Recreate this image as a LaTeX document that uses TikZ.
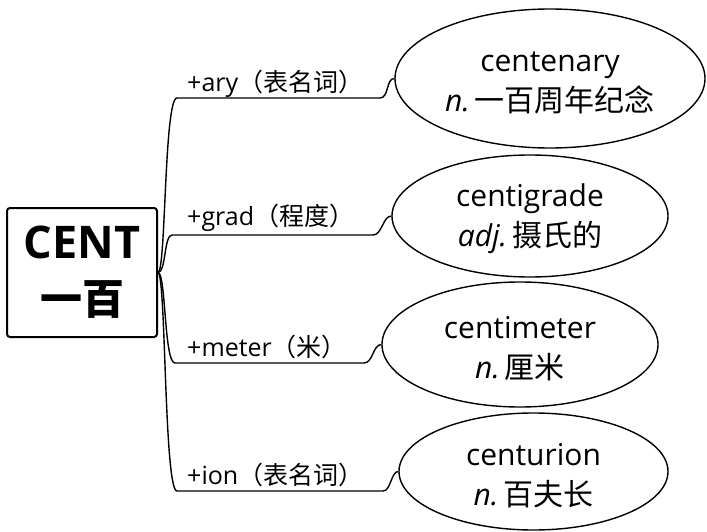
\documentclass[tikz,border=0pt]{standalone}
\usepackage{fontspec}
\setmainfont{Open Sans}
\newfontfamily\cjk{Noto Sans CJK SC}
\usetikzlibrary{shapes.geometric}
\begin{document}
\begin{tikzpicture}[x=1pt,y=-1pt,
  conn/.style={line width=1.4pt, black},
  wordell/.style={ellipse, draw, line width=1.4pt, inner sep=0pt},
  wordtxt/.style={align=center, inner sep=0pt, font=\fontsize{30}{40}\selectfont},
  branchlbl/.style={anchor=west, inner sep=0pt, font=\fontsize{25}{30}\selectfont},
  rootbox/.style={draw, line width=2pt, rounded corners=3pt, minimum width=150pt, minimum height=129pt, align=center, font=\fontsize{45}{56}\selectfont\bfseries}]
\useasboundingbox (0,0) rectangle (707,532);
\node[rootbox] (root) at (82,272.5) {CENT\\{\cjk\bfseries\fontsize{42}{56}\selectfont 一百}};

\node[wordell, minimum width=310pt, minimum height=139pt] (e1) at (550,78.5) {};
\node[wordell, minimum width=276pt, minimum height=122pt] (e2) at (530,216) {};
\node[wordell, minimum width=276pt, minimum height=125pt] (e3) at (520,344.5) {};
\node[wordell, minimum width=269pt, minimum height=117pt] (e4) at (533.5,471.5) {};

\node[wordtxt] (t1) at ([yshift=-4pt]e1.center) {centenary\\\textit{n.}\,{\cjk 一百周年纪念}};
\node[wordtxt] (t2) at ([yshift=-3pt]e2.center) {centigrade\\\textit{adj.}\,{\cjk 摄氏的}};
\node[wordtxt] (t3) at ([yshift=-4pt]e3.center) {centimeter\\\textit{n.}\,{\cjk 厘米}};
\node[wordtxt] (t4) at ([yshift=-4pt]e4.center) {centurion\\\textit{n.}\,{\cjk 百夫长}};

\node[branchlbl] (l1) at (187,84) {+ary{\cjk （表名词）}};
\node[branchlbl] (l2) at (187,218) {+grad{\cjk （程度）}};
\node[branchlbl] (l3) at (187,347) {+meter{\cjk （米）}};
\node[branchlbl] (l4) at (187,475) {+ion{\cjk （表名词）}};

\coordinate (a1) at (177,98);  \coordinate (b1) at (380,98);
\coordinate (a2) at (172,235); \coordinate (b2) at (373,235);
\coordinate (a3) at (175,363); \coordinate (b3) at (364,363);
\coordinate (a4) at (177,491); \coordinate (b4) at (383,491);

\draw[conn] (root.east) .. controls (166,272.5) and (164,98) .. (a1) -- (b1) .. controls (389,98) and (386,78.5) .. (e1.west);
\draw[conn] (root.east) .. controls (166,272.5) and (164,235) .. (a2) -- (b2) .. controls (382,235) and (383,216) .. (e2.west);
\draw[conn] (root.east) .. controls (166,272.5) and (164,363) .. (a3) -- (b3) .. controls (373,363) and (373,344.5) .. (e3.west);
\draw[conn] (root.east) .. controls (166,272.5) and (164,491) .. (a4) -- (b4) .. controls (391,491) and (391,471.5) .. (e4.west);
\end{tikzpicture}
\end{document}
